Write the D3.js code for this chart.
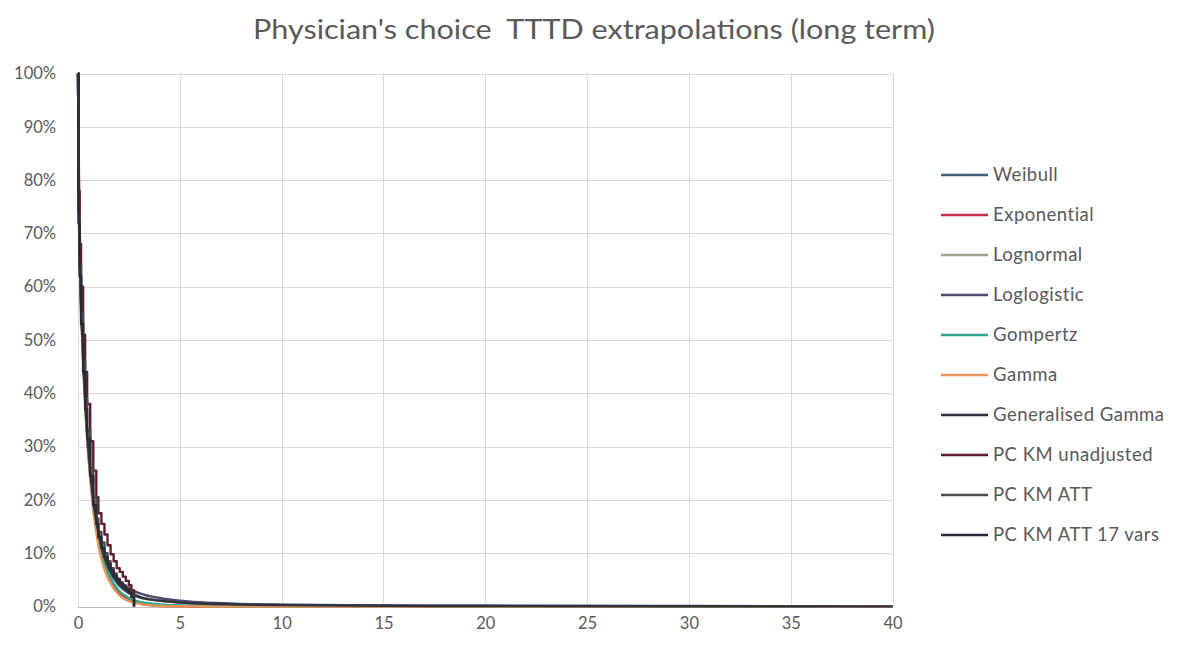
<!DOCTYPE html>
<html><head><meta charset="utf-8">
<script src="https://cdn.jsdelivr.net/npm/d3@7"></script>
<style>body{margin:0;background:#fff;}svg{display:block;font-family:Lato,"Open Sans",sans-serif;}</style>
</head><body><svg id="c" width="1181" height="646"></svg>
<script>
// ---- data ----
const title = "Physician's choice  TTTD extrapolations (long term)";
const xTicks = [0,5,10,15,20,25,30,35,40];
const yTicks = [0,0.1,0.2,0.3,0.4,0.5,0.6,0.7,0.8,0.9,1];
// time grid (years) for parametric extrapolations
const tParam = [0,0.05,0.1,0.2,0.3,0.4,0.5,0.75,1,1.25,1.5,2,2.5,3,4,5,6,8,10,15,20,30,40];
const weibull      = [1,0.74,0.64,0.52,0.43,0.355,0.295,0.195,0.135,0.095,0.07,0.04,0.025,0.017,0.011,0.008,0.006,0.004,0.003,0.0015,0.001,0.0006,0.0004];
const exponential  = [1,0.80,0.68,0.54,0.44,0.36,0.30,0.19,0.125,0.085,0.058,0.027,0.013,0.006,0.0015,0.0004,0.0001,0,0,0,0,0,0];
const lognormal    = [1,0.72,0.63,0.52,0.43,0.36,0.30,0.20,0.14,0.10,0.075,0.045,0.028,0.019,0.011,0.007,0.005,0.003,0.002,0.001,0.0006,0.0003,0.0002];
const loglogistic  = [1,0.73,0.63,0.51,0.42,0.35,0.295,0.195,0.14,0.105,0.08,0.05,0.034,0.025,0.016,0.011,0.008,0.005,0.0035,0.002,0.0013,0.0008,0.0005];
const gompertz     = [1,0.76,0.66,0.53,0.44,0.36,0.30,0.19,0.125,0.085,0.06,0.03,0.016,0.009,0.004,0.002,0.001,0,0,0,0,0,0];
const gamma        = [1,0.75,0.64,0.51,0.42,0.345,0.285,0.18,0.115,0.075,0.05,0.022,0.01,0.005,0.001,0.0003,0.0001,0,0,0,0,0,0];
const genGamma     = [1,0.73,0.64,0.52,0.43,0.355,0.298,0.198,0.138,0.098,0.073,0.043,0.027,0.018,0.011,0.0075,0.0055,0.0035,0.0025,0.0013,0.0009,0.0005,0.0003];
// Kaplan-Meier step curves (end of follow-up ~2.75 years)
const tKM          = [0,0.03,0.08,0.15,0.25,0.35,0.45,0.6,0.75,0.9,1.0,1.15,1.3,1.45,1.6,1.75,1.9,2.05,2.2,2.35,2.5,2.62,2.75];
const kmUnadj      = [1,0.78,0.68,0.60,0.51,0.44,0.38,0.31,0.255,0.205,0.175,0.155,0.135,0.115,0.098,0.085,0.072,0.065,0.056,0.048,0.040,0.030,0];
const kmATT        = [1,0.74,0.64,0.55,0.46,0.39,0.33,0.26,0.205,0.165,0.14,0.12,0.10,0.085,0.072,0.062,0.052,0.045,0.040,0.034,0.028,0.020,0];
const kmATT17      = [1,0.72,0.62,0.53,0.44,0.37,0.315,0.245,0.19,0.155,0.13,0.11,0.093,0.08,0.068,0.058,0.05,0.043,0.037,0.032,0.026,0.018,0];
const seriesNames  = ["Weibull","Exponential","Lognormal","Loglogistic","Gompertz","Gamma","Generalised Gamma","PC KM unadjusted","PC KM ATT","PC KM ATT 17 vars"];
const seriesColors = ["#3f5f7a","#c8304e","#a4a08e","#4e4a6a","#2fa58a","#e8955a","#2f3340","#5c1f30","#4a4a50","#2a2a34"];

// ---- build ----
const series = [
  {name:seriesNames[0], t:tParam, v:weibull, step:false},
  {name:seriesNames[1], t:tParam, v:exponential, step:false},
  {name:seriesNames[2], t:tParam, v:lognormal, step:false},
  {name:seriesNames[3], t:tParam, v:loglogistic, step:false},
  {name:seriesNames[4], t:tParam, v:gompertz, step:false},
  {name:seriesNames[5], t:tParam, v:gamma, step:false},
  {name:seriesNames[6], t:tParam, v:genGamma, step:false},
  {name:seriesNames[7], t:tKM, v:kmUnadj, step:true},
  {name:seriesNames[8], t:tKM, v:kmATT, step:true},
  {name:seriesNames[9], t:tKM, v:kmATT17, step:true}
].map((s,i)=>({...s,color:seriesColors[i]}));

const svg = d3.select("#c");
const x = d3.scaleLinear().domain([0,40]).range([78,892.5]);
const y = d3.scaleLinear().domain([0,1]).range([606.5,73.5]);
const txt = "#595959";

svg.append("text").attr("x",594).attr("y",39).attr("text-anchor","middle")
  .attr("font-size",27).attr("fill",txt).style("white-space","pre")
  .attr("textLength",682).attr("lengthAdjust","spacingAndGlyphs").text(title);

// gridlines
const g = svg.append("g");
g.selectAll(".hg").data(yTicks).join("line")
  .attr("x1",x(0)).attr("x2",x(40)).attr("y1",d=>Math.round(y(d))+0.5).attr("y2",d=>Math.round(y(d))+0.5)
  .attr("stroke",d=>d===0?"#bfbfbf":"#d9d9d9").attr("stroke-width",1);
g.selectAll(".vg").data(xTicks).join("line")
  .attr("x1",d=>Math.round(x(d))+0.5).attr("x2",d=>Math.round(x(d))+0.5).attr("y1",y(1)).attr("y2",y(0))
  .attr("stroke","#d9d9d9").attr("stroke-width",1);

// axes labels via d3 axes
const yAxis = svg.append("g").attr("transform",`translate(${x(0)},0)`)
  .call(d3.axisLeft(y).tickValues(yTicks).tickFormat(d3.format(".0%")).tickSize(0).tickPadding(22));
const xAxis = svg.append("g").attr("transform",`translate(0,${y(0)})`)
  .call(d3.axisBottom(x).tickValues(xTicks).tickFormat(d3.format("d")).tickSize(0).tickPadding(11));
[yAxis,xAxis].forEach(a=>{a.select(".domain").remove();
  a.selectAll("text").attr("fill",txt).attr("font-size",16.5).attr("font-family","Lato, 'Open Sans', sans-serif");});

// lines
svg.append("defs").append("clipPath").attr("id","pc").append("rect")
  .attr("x",x(0)-2).attr("y",y(1)-2).attr("width",x(40)-x(0)+4).attr("height",y(0)-y(1)+4);
const lp = svg.append("g").attr("clip-path","url(#pc)");
series.forEach(s=>{
  const pts = s.t.map((t,i)=>[t,s.v[i]]);
  const line = d3.line().x(d=>x(d[0])).y(d=>y(d[1])).curve(s.step?d3.curveStepAfter:d3.curveMonotoneX);
  lp.append("path").attr("d",line(pts)).attr("fill","none").attr("stroke",s.color)
    .attr("stroke-width",2.4).attr("stroke-linejoin","round");
});

// legend
const lg = svg.append("g");
series.forEach((s,i)=>{
  const yy = 175 + i*40;
  lg.append("line").attr("x1",941).attr("x2",988).attr("y1",yy).attr("y2",yy)
    .attr("stroke",s.color).attr("stroke-width",2.4);
  lg.append("text").attr("x",993).attr("y",yy+6).attr("font-size",18.5).attr("letter-spacing",0.5)
    .attr("fill",txt).text(s.name);
});
</script></body></html>
